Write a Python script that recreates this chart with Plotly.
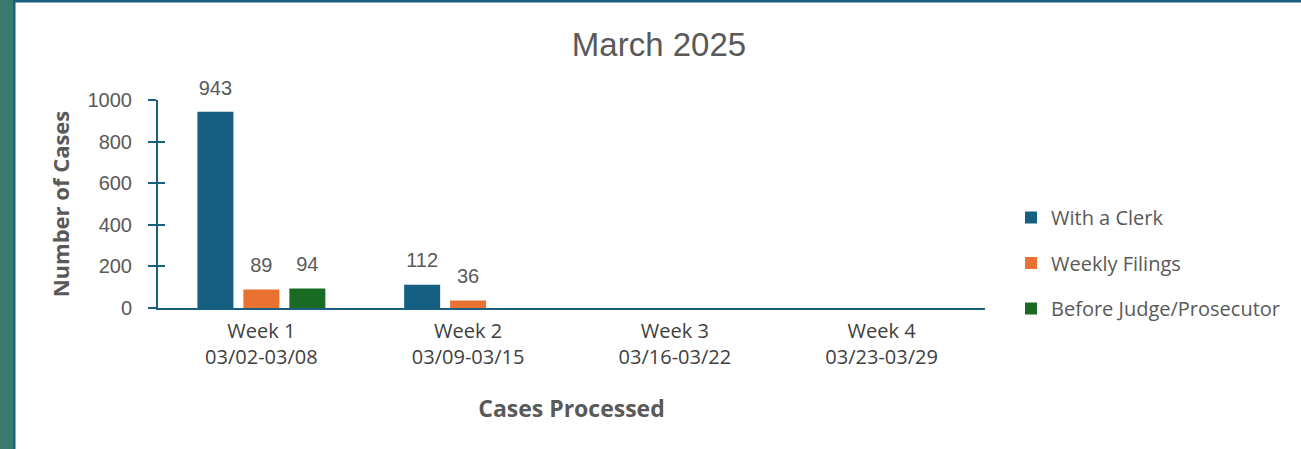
import plotly.graph_objects as go

weeks = ["Week 1<br>03/02-03/08", "Week 2<br>03/09-03/15", "Week 3<br>03/16-03/22", "Week 4<br>03/23-03/29"]
with_clerk = [943, 112, None, None]
weekly_filings = [89, 36, None, None]
before_judge = [94, None, None, None]
series_names = ["With a Clerk", "Weekly Filings", "Before Judge/Prosecutor"]
series_colors = ["#156082", "#E97132", "#196B24"]
y_ticks = [0, 200, 400, 600, 800, 1000]

W, H = 1301, 449
L, R, T, B = 158, 316, 100, 141
PW, PH = W - L - R, H - T - B

def px_x(p):
    return (p - L) / PW

def px_y(p):
    return (H - B - p) / PH

AX = "#1B5F80"
GRAY = "#595959"
NUMF = "Liberation Sans, Arial, sans-serif"
TXTF = "Open Sans, Lato, sans-serif"
BARGAP = 0.333

fig = go.Figure()
for i, (name, vals, col) in enumerate(zip(series_names, [with_clerk, weekly_filings, before_judge], series_colors)):
    fig.add_trace(go.Bar(
        x=weeks, y=vals, name=name, legendgroup=name,
        marker=dict(color=col, line=dict(width=0)),
        offsetgroup=str(i), alignmentgroup="a",
        yaxis="y",
    ))
# value labels, positioned by the same grouped category scale
for i, (name, vals) in enumerate(zip(series_names, [with_clerk, weekly_filings, before_judge])):
    fig.add_trace(go.Scatter(
        x=weeks, y=vals, mode="markers+text", showlegend=False, hoverinfo="skip",
        text=[("" if v is None else str(v)) for v in vals],
        textposition="top center", cliponaxis=False,
        textfont=dict(family=NUMF, size=20, color=GRAY),
        marker=dict(size=18, opacity=0),
        offsetgroup=str(i), alignmentgroup="a",
    ))

# invisible trace on second y-axis for inside ticks
fig.add_trace(go.Scatter(x=[weeks[0]], y=[0], yaxis="y2", mode="markers",
                         marker=dict(opacity=0), showlegend=False, hoverinfo="skip"))

fig.update_layout(
    width=W, height=H,
    margin=dict(l=L, r=R, t=T, b=B, pad=0),
    paper_bgcolor="white", plot_bgcolor="white",
    barmode="group", bargap=BARGAP, bargroupgap=0.217,
    scattermode="group", scattergap=BARGAP,
    title=dict(text="March 2025", x=659 / W, xanchor="center", xref="container",
               y=1 - 44 / H, yanchor="middle", yref="container",
               font=dict(family=NUMF, size=33, color=GRAY)),
    xaxis=dict(showline=True, linecolor=AX, linewidth=2, showgrid=False, zeroline=False,
               ticks="", tickfont=dict(family=TXTF, size=20, color="#404040"),
               ticklabelstandoff=4,
               title=dict(text="<b>Cases Processed</b>", standoff=32,
                          font=dict(family=TXTF, size=23, color=GRAY))),
    yaxis=dict(range=[0, 1000], tickvals=y_ticks, showline=True, linecolor=AX, linewidth=2,
               showgrid=False, zeroline=False, ticks="outside", ticklen=8, tickwidth=2,
               tickcolor=AX, tickfont=dict(family=NUMF, size=20, color=GRAY),
               ticklabelstandoff=12,
               title=dict(text="<b>Number of Cases</b>", standoff=12,
                          font=dict(family=TXTF, size=22, color=GRAY))),
    yaxis2=dict(range=[0, 1000], tickvals=y_ticks, overlaying="y", side="left",
                showline=False, showgrid=False, zeroline=False, ticks="inside",
                ticklen=7, tickwidth=2, tickcolor=AX, showticklabels=False),
    legend=dict(x=px_x(1011), xanchor="left", y=px_y(263), yanchor="middle",
                font=dict(family=TXTF, size=20, color=GRAY), tracegroupgap=16.5,
                bgcolor="rgba(0,0,0,0)", itemclick=False),
    showlegend=True,
    shapes=[
        dict(type="rect", xref="paper", yref="paper", x0=px_x(0), x1=px_x(13),
             y0=px_y(H), y1=px_y(0), fillcolor="#3A7A6E", line=dict(width=0), layer="below"),
        dict(type="rect", xref="paper", yref="paper", x0=px_x(13), x1=px_x(15.5),
             y0=px_y(H), y1=px_y(0), fillcolor="#1B5F80", line=dict(width=0), layer="below"),
        dict(type="rect", xref="paper", yref="paper", x0=px_x(13), x1=px_x(W),
             y0=px_y(2.5), y1=px_y(0), fillcolor="#1B5F80", line=dict(width=0), layer="below"),
    ],
)

fig.write_html("out.html", config={"displayModeBar": False},
               post_script="document.body.style.margin='0px';document.body.style.padding='0px';")
